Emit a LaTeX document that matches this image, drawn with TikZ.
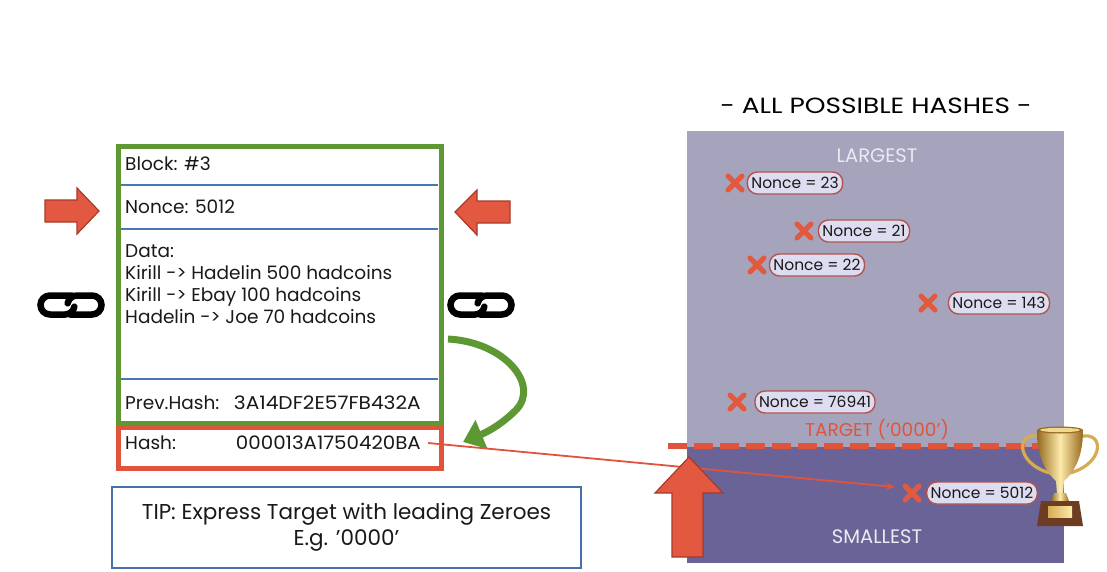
\documentclass[tikz,border=0pt]{standalone}
\usepackage{fontspec}
\setmainfont{Poppins}
\usetikzlibrary{arrows.meta}

\definecolor{blockgreen}{RGB}{94,152,50}
\definecolor{hashred}{RGB}{224,84,60}
\definecolor{sepblue}{RGB}{74,120,180}
\definecolor{tipblue}{RGB}{72,112,170}
\definecolor{arrowfill}{RGB}{226,88,64}
\definecolor{arrowedge}{RGB}{168,58,40}
\definecolor{upperpanel}{RGB}{166,164,188}
\definecolor{lowerpanel}{RGB}{106,99,152}
\definecolor{pillfill}{RGB}{221,220,240}
\definecolor{pillborder}{RGB}{178,84,78}
\definecolor{xred}{RGB}{226,90,62}
\definecolor{paneltext}{RGB}{234,234,242}
\definecolor{gold}{RGB}{214,172,82}
\definecolor{golddark}{RGB}{150,105,30}
\definecolor{goldlight}{RGB}{252,234,170}
\definecolor{bronze}{RGB}{110,60,35}
\definecolor{inktext}{RGB}{25,25,25}

\newcommand{\widetext}[2]{\scalebox{#1}[1]{#2}}

\tikzset{
  blocktxt/.style={anchor=base west, inner sep=0, text=inktext, font=\fontsize{18.5}{22}\selectfont},
  hashval/.style={anchor=base east, inner sep=0, text=inktext, font=\fontsize{18.5}{22}\selectfont},
  sepline/.style={draw=sepblue, line width=2},
  fatarrow/.style={fill=arrowfill, draw=arrowedge, line width=1.2, line join=miter},
  pill/.style={draw=pillborder, fill=pillfill, rounded corners=10, line width=1.4,
    inner xsep=4, inner ysep=0, minimum height=22, text=inktext, font=\fontsize{15.5}{18}\selectfont},
  paneltitle/.style={text=paneltext, font=\fontsize{19.5}{22}\selectfont},
  linkstroke/.style={draw=black, line width=6.5, line cap=round},
  xmark/.pic={\draw[xred, line width=5, line cap=round] (-7,-7) -- (7,7) (-7,7) -- (7,-7);},
  % y runs downwards here, so angle 270 is the top of an arc
  chainlink/.pic={
    \draw[linkstroke] (1,-9.5) -- (-21,-9.5) arc[start angle=270, end angle=90, radius=9.5]
       -- (-6,9.5) arc[start angle=90, end angle=10, radius=9.5];
    \draw[linkstroke] (-1,9.5) -- (21,9.5) arc[start angle=90, end angle=-90, radius=9.5]
       -- (6,-9.5) arc[start angle=270, end angle=190, radius=9.5];
  }
}

\begin{document}
\begin{tikzpicture}[x=1pt,y=-1pt]
\useasboundingbox (0,0) rectangle (1107,571);
\fill[white] (0,0) rectangle (1107,571);

% ---------- the block ----------
\draw[sepline] (116,185) -- (438,185);
\draw[sepline] (116,229) -- (438,229);
\draw[sepline] (116,379) -- (438,379);
\node[draw=blockgreen, line width=5, minimum width=323, minimum height=277, inner sep=0, anchor=north west]
  (block) at (115.5,143.5) {};
\node[draw=hashred, line width=5, minimum width=323, minimum height=41, inner sep=0, anchor=north west]
  (hashbox) at (115.5,424.5) {};

\node[blocktxt] (blocknum) at (125,170) {Block: \#3};
\node[blocktxt] (nonce) at (125,213) {Nonce: 5012};
\node[blocktxt] (data) at (125,257) {Data:};
\node[blocktxt] (tx1) at (125,279) {Kirill -> Hadelin 500 hadcoins};
\node[blocktxt] (tx2) at (125,301) {Kirill -> Ebay 100 hadcoins};
\node[blocktxt] (tx3) at (125,323) {Hadelin -> Joe 70 hadcoins};
\node[blocktxt] (prevlbl) at (125,409) {Prev.Hash:};
\node[hashval] (prevval) at (421,409) {\widetext{1.09}{3A14DF2E57FB432A}};
\node[blocktxt] (hashlbl) at (125,449) {Hash:};
\node[hashval] (hashval) at (421,449) {\widetext{1.07}{000013A1750420BA}};

% side arrows pointing at the nonce
\draw[fatarrow] (45,200) -- (77,200) -- (77,188) -- (99,211) -- (77,234) -- (77,222) -- (45,222) -- cycle;
\draw[fatarrow] (510,201) -- (477,201) -- (477,190) -- (455,212) -- (477,235) -- (477,223) -- (510,223) -- cycle;

% chain links on both sides
\pic (linkleft) at (71,305) {chainlink};
\pic (linkright) at (481,305) {chainlink};

% curved arrow from the block to its hash
\coordinate (gstart) at (448,339);
\coordinate (gend) at (463,442);
\draw[blockgreen, line width=7, -{Triangle[length=20, width=30]}]
  (gstart) .. controls (505,342) and (540,385) .. (516,410) .. controls (505,421) and (492,430) .. (gend);

% tip box
\node[draw=tipblue, line width=2, minimum width=469, minimum height=81, inner sep=0, anchor=north west,
  align=center, text=inktext, font=\fontsize{21.5}{26}\selectfont] (tip) at (111,486)
  {TIP: Express Target with leading Zeroes\\E.g. '0000'};

% ---------- all possible hashes ----------
\node[font=\fontsize{22}{26}\selectfont, text=black] (title) at (876,106) {\widetext{1.2}{- ALL POSSIBLE HASHES -}};
\node[fill=upperpanel, minimum width=377, minimum height=316, inner sep=0, anchor=north west] (upper) at (687,131) {};
\node[fill=lowerpanel, minimum width=377, minimum height=116, inner sep=0, anchor=north west] (lower) at (687,447) {};

\node[paneltitle] (largest) at (877,156) {LARGEST};
\node[paneltitle] (smallest) at (877,537) {SMALLEST};
\node[text=hashred, font=\fontsize{18.5}{22}\selectfont] (target) at (877,430) {TARGET ('0000')};

% target line
\draw[hashred, line width=6, dash pattern=on 19 off 7] (668,446) -- (1050,446);

% tried nonces
\pic (x23) at (735,183) {xmark};
\node[pill] (n23) at (795,183) {Nonce = 23};
\pic (x21) at (804,231) {xmark};
\node[pill] (n21) at (864,231) {Nonce = 21};
\pic (x22) at (757,265) {xmark};
\node[pill] (n22) at (817,265) {Nonce = 22};
\pic (x143) at (928,303) {xmark};
\node[pill] (n143) at (999,303) {Nonce = 143};
\pic (x76941) at (737,402) {xmark};
\node[pill] (n76941) at (815,402) {Nonce = 76941};
\pic (x5012) at (912,493) {xmark};
\node[pill] (n5012) at (982,493) {Nonce = 5012};

% hash pointer into the valid region
\coordinate (hashtail) at (428,443);
\coordinate (hashhit) at (895,487);
\draw[hashred, line width=1.8, -{Stealth[length=9, width=7]}] (hashtail) -- (hashhit);

% upward arrow below the target
\draw[fatarrow] (689,457) -- (723,493) -- (703,493) -- (703,557) -- (672,557) -- (672,493) -- (655,493) -- cycle;

% trophy
\draw[gold, line width=3.2] (1041,437) .. controls (1016,429) and (1014,463) .. (1050,473);
\draw[gold, line width=3.2] (1079,437) .. controls (1104,429) and (1106,463) .. (1070,473);
\shade[left color=golddark, right color=golddark, middle color=goldlight]
  (1037,430) -- (1083,430) .. controls (1083,460) and (1072,474) .. (1064,481)
  -- (1063,494) -- (1057,494) -- (1056,481) .. controls (1048,474) and (1037,460) .. cycle;
\fill[golddark] (1060,430) ellipse[x radius=23, y radius=3.5];
\fill[goldlight!70!gold] (1060,430) ellipse[x radius=20, y radius=2.2];
\shade[left color=golddark, right color=golddark, middle color=goldlight]
  (1051,501) -- (1054,493) -- (1066,493) -- (1069,501) -- cycle;
\fill[bronze] (1041,501) -- (1079,501) -- (1083,526) -- (1037,526) -- cycle;
\shade[left color=gold, right color=goldlight] (1048,506) rectangle (1072,517);
\end{tikzpicture}
\end{document}
